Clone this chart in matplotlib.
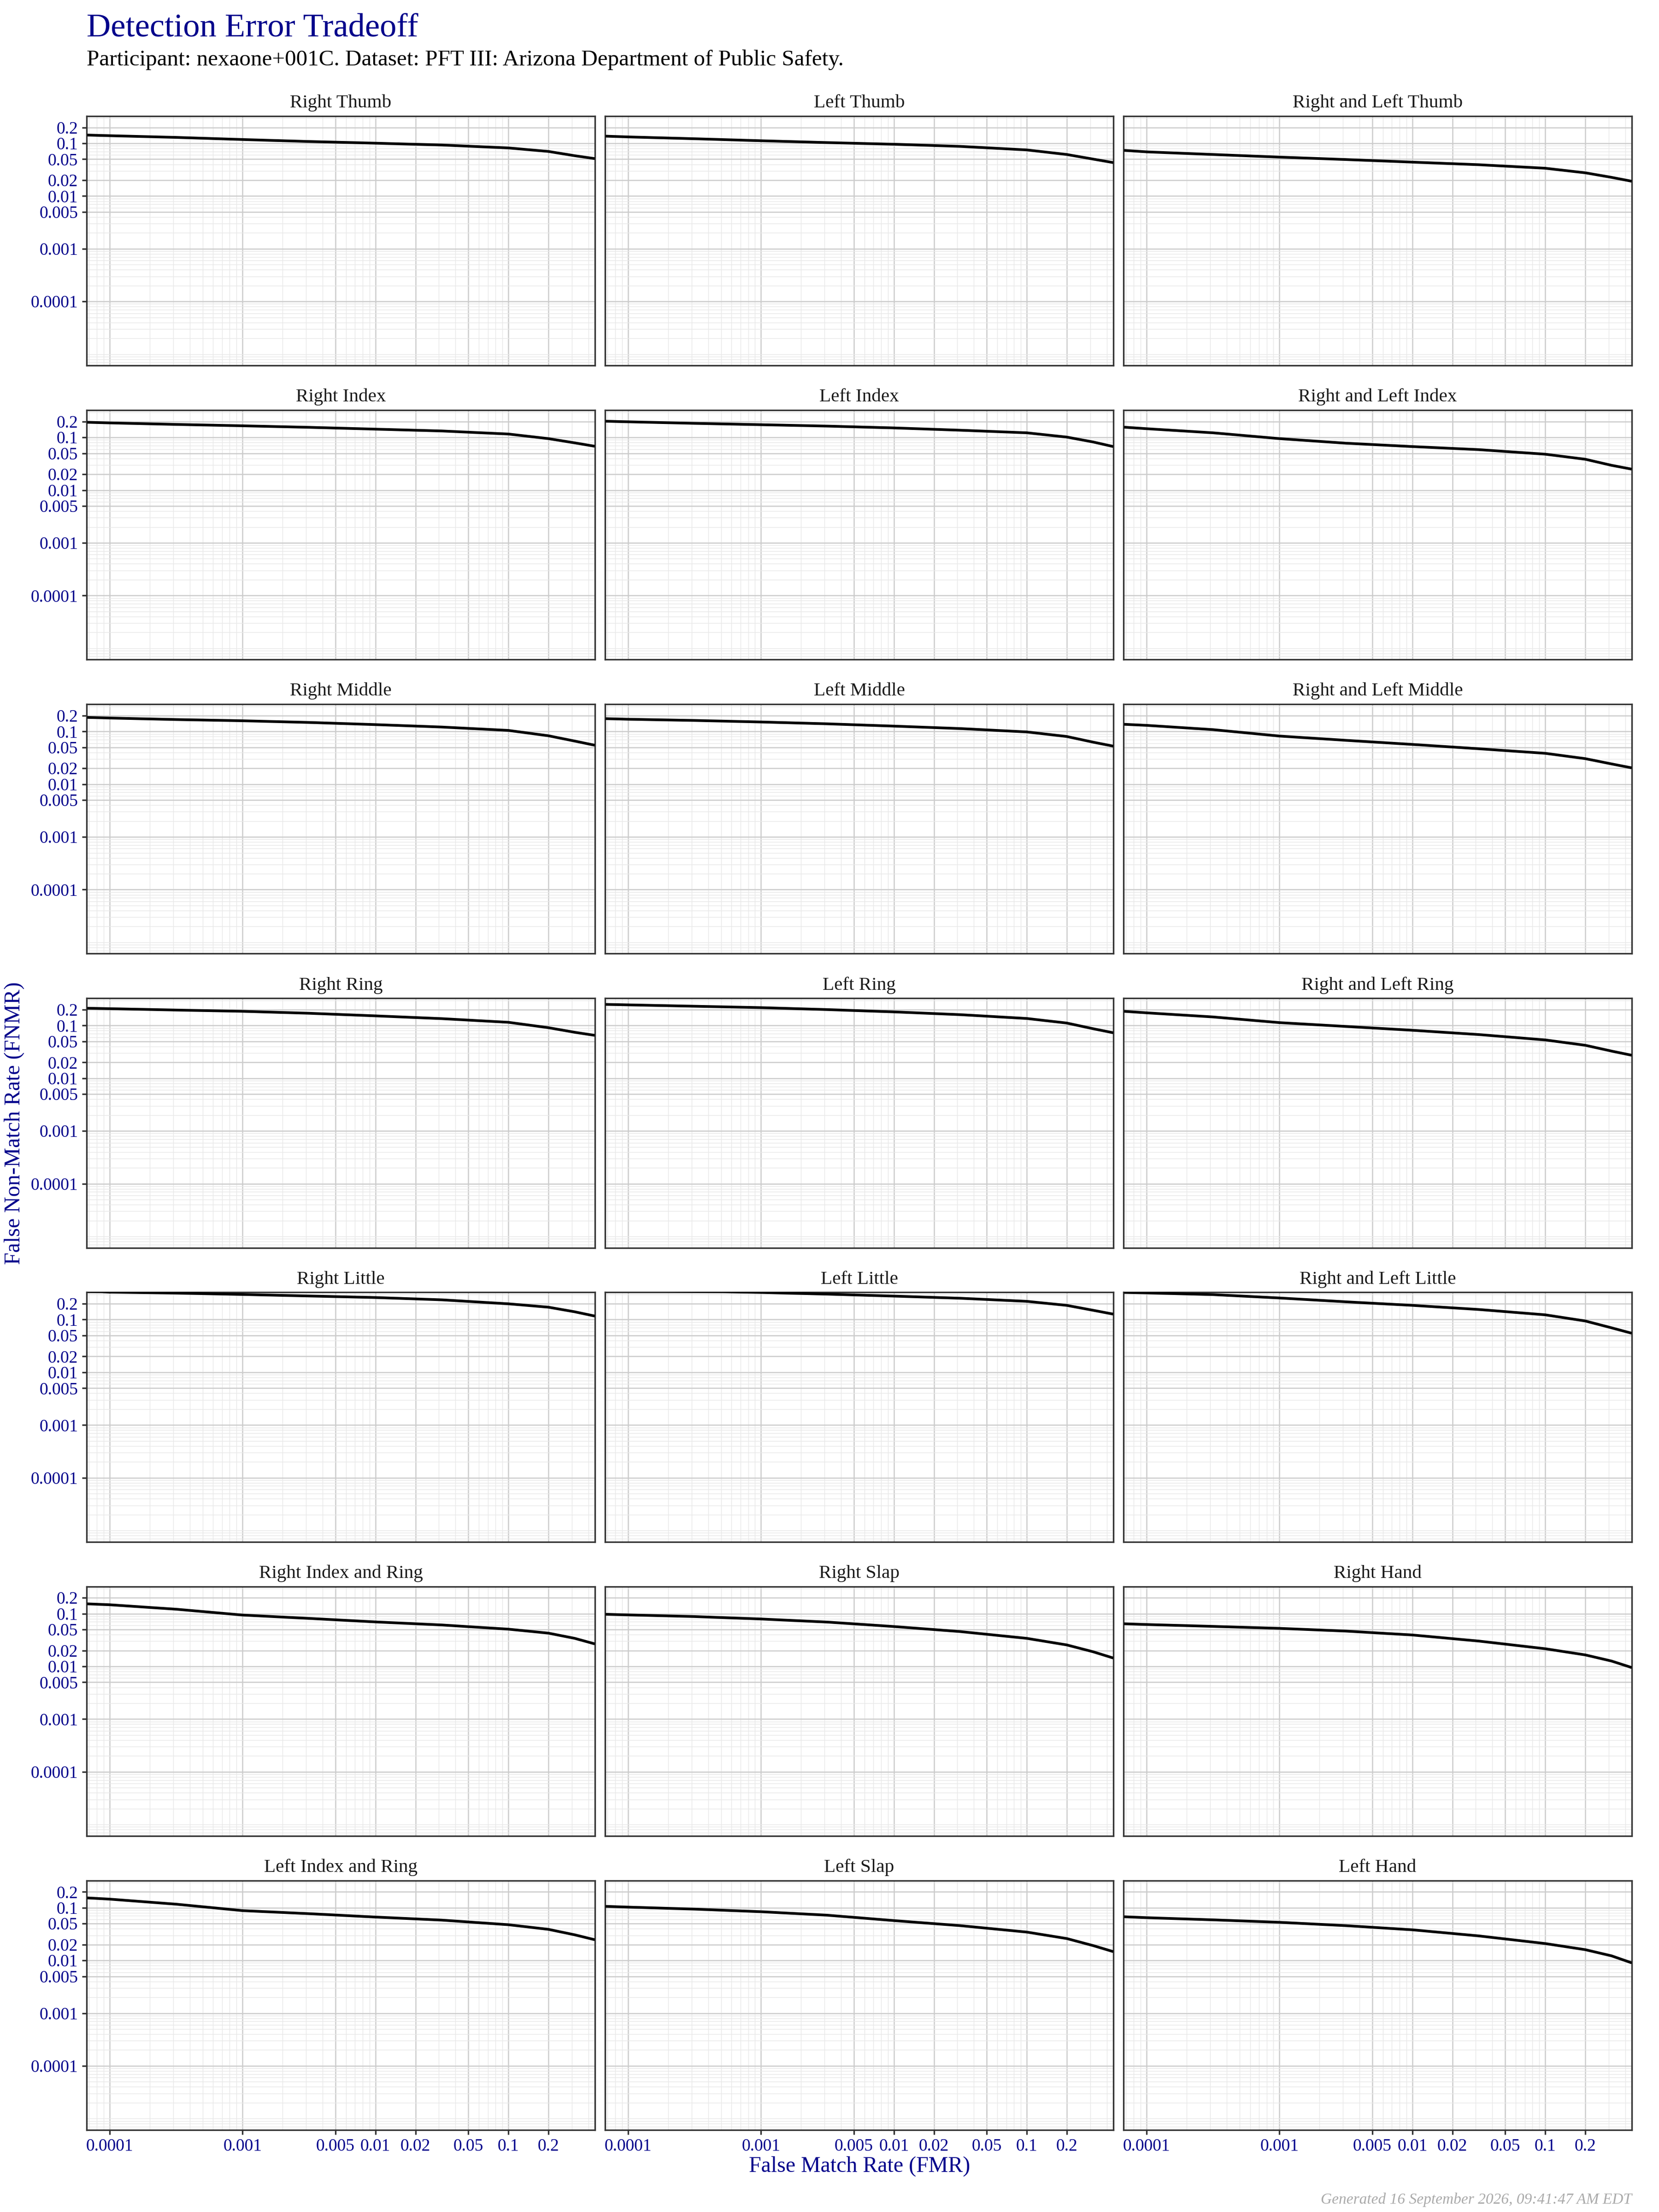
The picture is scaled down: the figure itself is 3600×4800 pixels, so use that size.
import numpy as np
import matplotlib
matplotlib.use("Agg")
import matplotlib.pyplot as plt
from matplotlib.ticker import FixedLocator, LogLocator, NullFormatter

plt.rc('font', family='Liberation Serif')

BLUE = '#00008B'

TITLE = 'Detection Error Tradeoff'
SUBTITLE = ('Participant: nexaone+001C. Dataset: PFT III: '
            'Arizona Department of Public Safety.')
FOOTER = 'Generated 16 September 2026, 09:41:47 AM EDT'

PANEL_NAMES = [
    'Right Thumb', 'Left Thumb', 'Right and Left Thumb',
    'Right Index', 'Left Index', 'Right and Left Index',
    'Right Middle', 'Left Middle', 'Right and Left Middle',
    'Right Ring', 'Left Ring', 'Right and Left Ring',
    'Right Little', 'Left Little', 'Right and Left Little',
    'Right Index and Ring', 'Right Slap', 'Right Hand',
    'Left Index and Ring', 'Left Slap', 'Left Hand',
]

BREAKS = [0.0001, 0.001, 0.005, 0.01, 0.02, 0.05, 0.1, 0.2]
BREAK_LABELS = ['0.0001', '0.001', '0.005', '0.01', '0.02', '0.05', '0.1', '0.2']

# FMR sample points (read along the x axis)
fmr = [0.0000676, 0.0001, 0.000316, 0.001, 0.00316, 0.01,
       0.0316, 0.1, 0.2, 0.316, 0.447]

# FNMR at the FMR points above
right_thumb = [0.1435, 0.1396, 0.1297, 0.1181, 0.1083, 0.1007, 0.0929, 0.0818, 0.0702, 0.0582, 0.0513]
left_thumb = [0.1368, 0.1324, 0.1222, 0.1120, 0.1033, 0.0961, 0.0875, 0.0750, 0.0614, 0.0502, 0.0431]
both_thumb = [0.0736, 0.0689, 0.0614, 0.0548, 0.0493, 0.0440, 0.0393, 0.0337, 0.0276, 0.0226, 0.0191]
right_index = [0.1936, 0.1884, 0.1762, 0.1660, 0.1553, 0.1434, 0.1324, 0.1159, 0.0948, 0.0787, 0.0679]
left_index = [0.2027, 0.1976, 0.1848, 0.1741, 0.1638, 0.1513, 0.1368, 0.1222, 0.1013, 0.0818, 0.0670]
both_index = [0.1563, 0.1462, 0.1222, 0.0948, 0.0776, 0.0670, 0.0586, 0.0480, 0.0385, 0.0295, 0.0250]
right_middle = [0.1848, 0.1799, 0.1683, 0.1595, 0.1483, 0.1349, 0.1213, 0.1047, 0.0829, 0.0657, 0.0548]
left_middle = [0.1751, 0.1706, 0.1617, 0.1513, 0.1396, 0.1263, 0.1135, 0.0980, 0.0802, 0.0626, 0.0527]
both_middle = [0.1368, 0.1306, 0.1083, 0.0818, 0.0679, 0.0568, 0.0470, 0.0385, 0.0305, 0.0242, 0.0204]
right_ring = [0.2128, 0.2088, 0.1966, 0.1862, 0.1709, 0.1525, 0.1351, 0.1151, 0.0910, 0.0744, 0.0651]
left_ring = [0.2518, 0.2466, 0.2322, 0.2186, 0.2005, 0.1815, 0.1607, 0.1360, 0.1114, 0.0869, 0.0729]
both_ring = [0.1862, 0.1741, 0.1455, 0.1135, 0.0961, 0.0813, 0.0674, 0.0533, 0.0422, 0.0327, 0.0273]
right_little = [0.3475, 0.3313, 0.3183, 0.2997, 0.2803, 0.2622, 0.2371, 0.1992, 0.1719, 0.1405, 0.1167]
left_little = [0.364, 0.359, 0.345, 0.327, 0.304, 0.279, 0.254, 0.222, 0.186, 0.150, 0.127]
both_little = [0.3273, 0.3208, 0.2978, 0.2570, 0.2174, 0.1862, 0.1555, 0.1231, 0.0941, 0.0697, 0.0551]
right_index_ring = [0.1535, 0.1475, 0.1214, 0.0941, 0.0813, 0.0697, 0.0610, 0.0508, 0.0427, 0.0340, 0.0267]
right_slap = [0.0974, 0.0947, 0.0881, 0.0792, 0.0692, 0.0570, 0.0457, 0.0340, 0.0255, 0.0189, 0.0144]
right_hand = [0.0643, 0.0622, 0.0574, 0.0526, 0.0467, 0.0394, 0.0302, 0.0216, 0.0165, 0.0126, 0.0095]
left_index_ring = [0.1535, 0.1455, 0.1167, 0.0881, 0.0771, 0.0665, 0.0582, 0.0476, 0.0389, 0.0306, 0.0247]
left_slap = [0.1062, 0.1027, 0.0941, 0.0840, 0.0721, 0.0570, 0.0457, 0.0345, 0.0260, 0.0191, 0.0147]
left_hand = [0.0674, 0.0647, 0.0589, 0.0529, 0.0457, 0.0381, 0.0292, 0.0209, 0.0160, 0.0122, 0.0090]

CURVES = [
    right_thumb, left_thumb, both_thumb,
    right_index, left_index, both_index,
    right_middle, left_middle, both_middle,
    right_ring, left_ring, both_ring,
    right_little, left_little, both_little,
    right_index_ring, right_slap, right_hand,
    left_index_ring, left_slap, left_hand,
]

# data ranges; ggplot-style 5% expansion in log space
X_RANGE = (1e-4, 0.3)
Y_RANGE = (1e-5, 0.2)


def expand_log(lo, hi, mult=0.05):
    a, b = np.log10(lo), np.log10(hi)
    pad = (b - a) * mult
    return 10 ** (a - pad), 10 ** (b + pad)


fig, axes = plt.subplots(7, 3, figsize=(12, 16), dpi=300, sharex=True, sharey=True)
fig.subplots_adjust(left=0.0522, right=0.9836, top=0.9475, bottom=0.0371,
                    wspace=0.02, hspace=0.179)

for i, ax in enumerate(axes.flat):
    ax.set_xscale('log')
    ax.set_yscale('log')
    ax.plot(fmr, CURVES[i], color='black', lw=1.4, solid_capstyle='butt', zorder=3)
    ax.set_xlim(*expand_log(*X_RANGE))
    ax.set_ylim(*expand_log(*Y_RANGE))

    for axis in (ax.xaxis, ax.yaxis):
        axis.set_major_locator(FixedLocator(BREAKS))
        axis.set_minor_locator(LogLocator(base=10, subs=np.arange(1, 10), numticks=50))
        axis.set_minor_formatter(NullFormatter())
    ax.set_xticklabels(BREAK_LABELS)
    ax.set_yticklabels(BREAK_LABELS)

    ax.grid(True, which='minor', color='#e8e8e8', lw=0.35, zorder=0)
    ax.grid(True, which='major', color='#cccccc', lw=0.6, zorder=1)
    ax.set_axisbelow(True)

    ax.tick_params(which='minor', length=0)
    ax.tick_params(which='major', length=2.5, width=0.8, color='#333333',
                   labelsize=9, labelcolor=BLUE, pad=2)
    for sp in ax.spines.values():
        sp.set_color('#333333')
        sp.set_linewidth(0.8)

    ax.set_title(PANEL_NAMES[i], fontsize=9.9, color='#1a1a1a', pad=4.5)

    row, col = divmod(i, 3)
    if col != 0:
        ax.tick_params(axis='y', which='major', length=0)
    if row != 6:
        ax.tick_params(axis='x', which='major', length=0)

fig.text(0.0522, 0.9835, TITLE, fontsize=17.4, color=BLUE, ha='left', va='baseline')
fig.text(0.0522, 0.9704, SUBTITLE, fontsize=11.8, color='black', ha='left', va='baseline')
fig.text(0.518, 0.0206, 'False Match Rate (FMR)', fontsize=11.5, color=BLUE,
         ha='center', va='center')
fig.text(0.0086, 0.4923, 'False Non-Match Rate (FNMR)', fontsize=11.5, color=BLUE,
         ha='center', va='center', rotation=90)
fig.text(0.9836, 0.0056, FOOTER, fontsize=8.0, color='#aaaaaa', style='italic',
         ha='right', va='center')

fig.savefig('out.png', dpi=300)
